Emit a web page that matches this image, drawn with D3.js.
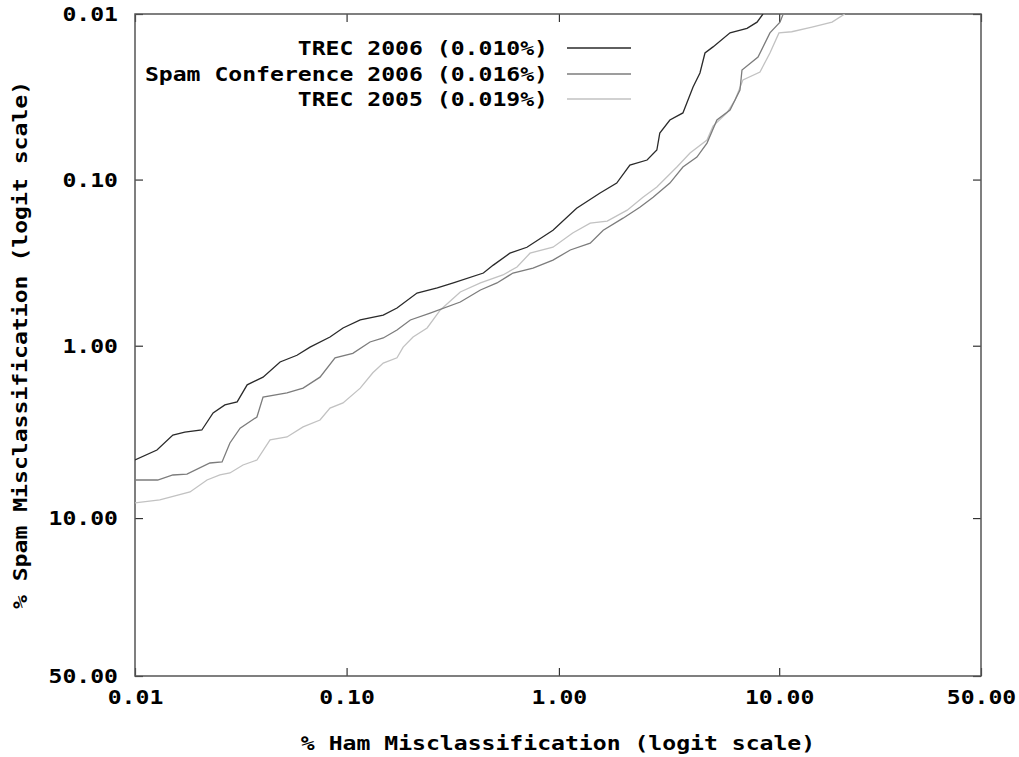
<!DOCTYPE html>
<html>
<head>
<meta charset="utf-8">
<script src="https://cdn.jsdelivr.net/npm/d3@7"></script>
<style>
  html, body { margin: 0; padding: 0; background: #fff; }
  svg { display: block; }
  text { font-family: "DejaVu Sans Mono", "Liberation Mono", monospace; font-weight: bold; fill: #000; }
</style>
</head>
<body>
<svg id="chart" width="1019" height="757"></svg>
<script>
// ---------- data (percentages) ----------
const seriesNames = ["TREC 2006 (0.010%)", "Spam Conference 2006 (0.016%)", "TREC 2005 (0.019%)"];
const seriesColors = ["#2a2a2a", "#7c7c7c", "#c2c2c2"];

const trec2006Ham = [0.0100,0.0127,0.0151,0.0172,0.0207,0.0234,0.0266,0.0304,0.0339,0.0403,0.0485,0.0583,0.0672,0.0835,0.0962,0.116,0.149,0.173,0.215,0.268,0.319,0.442,0.492,0.589,0.708,0.938,1.21,1.55,1.86,2.14,2.57,2.85,2.94,3.27,3.75,4.17,4.48,4.72,5.13,6.11,7.26,8.03,8.52];
const trec2006Spam = [4.72,4.13,3.38,3.25,3.16,2.51,2.25,2.16,1.71,1.54,1.25,1.14,1.02,0.887,0.783,0.701,0.655,0.594,0.483,0.450,0.420,0.366,0.328,0.278,0.256,0.202,0.149,0.121,0.105,0.0817,0.0762,0.0663,0.0524,0.0437,0.0396,0.0276,0.0227,0.0172,0.0158,0.0130,0.0122,0.0112,0.0100];

const spamConfHam = [0.0100,0.0128,0.0151,0.0176,0.0226,0.0258,0.0281,0.0314,0.0377,0.0403,0.0523,0.0623,0.0749,0.0882,0.107,0.129,0.149,0.173,0.200,0.248,0.344,0.428,0.512,0.609,0.756,0.938,1.13,1.40,1.61,1.99,2.38,2.74,3.27,3.75,4.34,4.82,5.34,6.11,6.76,6.90,8.11,9.13,10.08,10.4];
const spamConfSpam = [6.14,6.14,5.75,5.68,4.91,4.84,3.76,3.08,2.65,2.02,1.91,1.79,1.54,1.18,1.11,0.950,0.899,0.805,0.701,0.637,0.547,0.463,0.420,0.366,0.342,0.306,0.266,0.242,0.202,0.171,0.147,0.128,0.105,0.0840,0.0731,0.0602,0.0437,0.0380,0.0288,0.0218,0.0182,0.0130,0.0112,0.0100];

const trec2005Ham = [0.0100,0.0131,0.0182,0.0219,0.0252,0.0281,0.0324,0.0377,0.0435,0.0523,0.0623,0.0749,0.0835,0.0962,0.116,0.133,0.149,0.173,0.185,0.206,0.240,0.277,0.344,0.428,0.546,0.636,0.732,0.938,1.16,1.40,1.68,2.08,2.46,2.85,3.52,4.04,4.82,5.13,5.92,6.43,6.97,8.27,9.13,9.98,11.3,13.7,16.5,18.5];
const trec2005Spam = [8.26,7.95,7.17,6.14,5.75,5.60,5.04,4.72,3.61,3.47,3.03,2.76,2.35,2.19,1.79,1.45,1.27,1.18,1.02,0.887,0.783,0.610,0.476,0.420,0.376,0.337,0.278,0.256,0.210,0.183,0.178,0.153,0.128,0.111,0.0840,0.0692,0.0577,0.0475,0.0396,0.0331,0.0250,0.0224,0.0172,0.0130,0.0128,0.0120,0.0112,0.0100];

const tickValues = [0.01, 0.1, 1, 10, 50];
const tickLabels = ["0.01", "0.10", "1.00", "10.00", "50.00"];
const xTitle = "% Ham Misclassification (logit scale)";
const yTitle = "% Spam Misclassification (logit scale)";

// ---------- setup ----------
const CHAR_W = 13.9;
const FONT_SIZE = 19;
const logit = pct => { const p = pct / 100; return Math.log(p / (1 - p)); };

const L = 135, R = 981, T = 14, B = 676;
const x = d3.scaleLinear().domain([logit(0.01), logit(50)]).range([L, R]);
const y = d3.scaleLinear().domain([logit(0.01), logit(50)]).range([T, B]);

const svg = d3.select("#chart");

function fitText(sel) {
  sel.each(function() {
    const t = d3.select(this);
    const s = t.text();
    t.attr("textLength", s.length * CHAR_W).attr("lengthAdjust", "spacingAndGlyphs");
  });
}

svg.append("defs").append("clipPath").attr("id", "plotclip")
  .append("rect").attr("x", L).attr("y", T).attr("width", R - L).attr("height", B - T);

// ---------- axes ----------
const tv = tickValues.map(logit);
const fmt = (d, i) => tickLabels[i];

const xAxisB = svg.append("g").attr("transform", `translate(0,${B})`)
  .call(d3.axisBottom(x).tickValues(tv).tickFormat(fmt).tickSizeInner(-8).tickSizeOuter(0));
const xAxisT = svg.append("g").attr("transform", `translate(0,${T})`)
  .call(d3.axisTop(x).tickValues(tv).tickFormat("").tickSizeInner(-8).tickSizeOuter(0));
const yAxisL = svg.append("g").attr("transform", `translate(${L},0)`)
  .call(d3.axisLeft(y).tickValues(tv).tickFormat(fmt).tickSizeInner(-8).tickSizeOuter(0));
const yAxisR = svg.append("g").attr("transform", `translate(${R},0)`)
  .call(d3.axisRight(y).tickValues(tv).tickFormat("").tickSizeInner(-8).tickSizeOuter(0));

[xAxisB, xAxisT, yAxisL, yAxisR].forEach(g => {
  g.select(".domain").remove();
  g.selectAll(".tick line").attr("stroke", "#333").attr("stroke-width", 1.2);
  g.attr("font-family", null).attr("font-size", null);
});

xAxisB.selectAll(".tick text")
  .attr("y", 28).attr("dy", null)
  .style("font-size", FONT_SIZE + "px")
  .attr("text-anchor", "middle")
  .call(fitText);
yAxisL.selectAll(".tick text")
  .attr("x", -17).attr("dy", "0.36em")
  .style("font-size", FONT_SIZE + "px")
  .attr("text-anchor", "end")
  .call(fitText);

// border
svg.append("rect")
  .attr("x", L).attr("y", T).attr("width", R - L).attr("height", B - T)
  .attr("fill", "none").attr("stroke", "#555").attr("stroke-width", 1.5);

// ---------- curves ----------
const series = [
  { name: seriesNames[0], color: seriesColors[0], ham: trec2006Ham, spam: trec2006Spam },
  { name: seriesNames[1], color: seriesColors[1], ham: spamConfHam, spam: spamConfSpam },
  { name: seriesNames[2], color: seriesColors[2], ham: trec2005Ham, spam: trec2005Spam }
];

const line = d3.line()
  .x(d => x(logit(d[0])))
  .y(d => y(logit(d[1])));

const curves = svg.append("g").attr("clip-path", "url(#plotclip)");
// draw light first so darker lines sit on top
series.slice().reverse().forEach(s => {
  curves.append("path")
    .datum(s.ham.map((h, i) => [h, s.spam[i]]))
    .attr("d", line)
    .attr("fill", "none")
    .attr("stroke", s.color)
    .attr("stroke-width", 1.3)
    .attr("stroke-linejoin", "miter");
});

// ---------- legend ----------
const legendRows = [48, 74, 99];
const legend = svg.append("g");
series.forEach((s, i) => {
  legend.append("text")
    .attr("x", 548).attr("y", legendRows[i]).attr("dy", "0.36em")
    .attr("text-anchor", "end")
    .style("font-size", FONT_SIZE + "px")
    .text(s.name)
    .call(fitText);
  legend.append("line")
    .attr("x1", 567).attr("x2", 631)
    .attr("y1", legendRows[i]).attr("y2", legendRows[i])
    .attr("stroke", s.color).attr("stroke-width", 1.3);
});

// ---------- titles ----------
svg.append("text")
  .attr("x", (L + R) / 2).attr("y", 750)
  .attr("text-anchor", "middle")
  .style("font-size", FONT_SIZE + "px")
  .text(xTitle)
  .call(fitText);

svg.append("text")
  .attr("transform", `translate(27,${(T + B) / 2}) rotate(-90)`)
  .attr("text-anchor", "middle")
  .style("font-size", FONT_SIZE + "px")
  .text(yTitle)
  .call(fitText);
</script>
</body>
</html>
